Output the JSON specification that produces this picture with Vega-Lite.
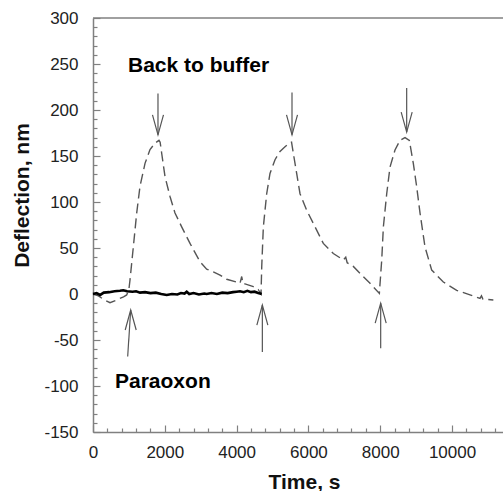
{
  "$schema": "https://vega.github.io/schema/vega-lite/v6.json",
  "width": 410,
  "height": 414,
  "autosize": {"type": "none"},
  "padding": {"left": 93, "top": 18, "right": 0, "bottom": 59},
  "background": "white",
  "config": {
    "view": {"stroke": null},
    "font": "Liberation Sans",
    "axis": {
      "grid": false,
      "domainColor": "#808080",
      "domainWidth": 1.5,
      "tickColor": "#808080",
      "tickWidth": 1.2,
      "labelColor": "#222222",
      "labelFont": "Liberation Sans",
      "labelFontSize": 17,
      "labelOverlap": false,
      "titleFont": "Liberation Sans",
      "titleFontSize": 21,
      "titleFontWeight": "bold",
      "titleColor": "#111111"
    }
  },
  "resolve": {"axis": {"x": "independent", "y": "independent"}},
  "datasets": {
    "dashed": [
      {"t": 0, "d": 0}, {"t": 150, "d": -2}, {"t": 300, "d": -6}, {"t": 474, "d": -9.5},
      {"t": 660, "d": -6.5}, {"t": 850, "d": -3}, {"t": 938, "d": -1}, {"t": 1000, "d": 5},
      {"t": 1030, "d": 15}, {"t": 1123, "d": 51}, {"t": 1217, "d": 88}, {"t": 1309, "d": 117},
      {"t": 1449, "d": 142}, {"t": 1588, "d": 157}, {"t": 1727, "d": 164}, {"t": 1838, "d": 167},
      {"t": 1870, "d": 165}, {"t": 1913, "d": 153}, {"t": 2006, "d": 127.5}, {"t": 2145, "d": 106},
      {"t": 2284, "d": 88}, {"t": 2470, "d": 73}, {"t": 2702, "d": 55}, {"t": 2981, "d": 35},
      {"t": 3166, "d": 27}, {"t": 3351, "d": 24}, {"t": 3538, "d": 20.6}, {"t": 3724, "d": 16},
      {"t": 4002, "d": 13}, {"t": 4095, "d": 11.6}, {"t": 4142, "d": 19}, {"t": 4180, "d": 11},
      {"t": 4234, "d": 11}, {"t": 4466, "d": 8}, {"t": 4600, "d": 5}, {"t": 4680, "d": 0},
      {"t": 4700, "d": 30}, {"t": 4745, "d": 73}, {"t": 4838, "d": 109}, {"t": 4930, "d": 131},
      {"t": 5070, "d": 146}, {"t": 5209, "d": 155}, {"t": 5348, "d": 160}, {"t": 5487, "d": 164.5},
      {"t": 5530, "d": 165}, {"t": 5580, "d": 153}, {"t": 5673, "d": 131}, {"t": 5766, "d": 109},
      {"t": 5952, "d": 91}, {"t": 6184, "d": 73}, {"t": 6415, "d": 55}, {"t": 6694, "d": 44},
      {"t": 6973, "d": 37}, {"t": 7040, "d": 40}, {"t": 7080, "d": 34}, {"t": 7251, "d": 30},
      {"t": 7437, "d": 22.5}, {"t": 7716, "d": 11.6}, {"t": 7976, "d": 0.7}, {"t": 8042, "d": 37},
      {"t": 8088, "d": 73}, {"t": 8181, "d": 109}, {"t": 8273, "d": 138}, {"t": 8412, "d": 156.5},
      {"t": 8552, "d": 167}, {"t": 8691, "d": 170}, {"t": 8811, "d": 167}, {"t": 8922, "d": 142},
      {"t": 9014, "d": 117}, {"t": 9109, "d": 88}, {"t": 9248, "d": 51}, {"t": 9434, "d": 26},
      {"t": 9758, "d": 13}, {"t": 10130, "d": 4}, {"t": 10501, "d": -1}, {"t": 10780, "d": -4.7},
      {"t": 10820, "d": -2}, {"t": 10860, "d": -5.5}, {"t": 11151, "d": -6.5}
    ],
    "solid": [
      {"t": 0, "d": 0}, {"t": 100, "d": 1}, {"t": 200, "d": -1}, {"t": 300, "d": 1.5},
      {"t": 450, "d": 2}, {"t": 600, "d": 3}, {"t": 750, "d": 3.5}, {"t": 844, "d": 4},
      {"t": 950, "d": 3}, {"t": 1100, "d": 2.5}, {"t": 1200, "d": 3}, {"t": 1309, "d": 1.5},
      {"t": 1450, "d": 2}, {"t": 1600, "d": 1}, {"t": 1750, "d": 1.5}, {"t": 1900, "d": 0},
      {"t": 2053, "d": -1}, {"t": 2200, "d": 0}, {"t": 2350, "d": -0.5}, {"t": 2450, "d": 1},
      {"t": 2550, "d": 0.5}, {"t": 2610, "d": 2.5}, {"t": 2680, "d": 0}, {"t": 2800, "d": 1},
      {"t": 2950, "d": -0.5}, {"t": 3100, "d": 0.5}, {"t": 3166, "d": 0}, {"t": 3300, "d": 1},
      {"t": 3450, "d": 0}, {"t": 3600, "d": 1.5}, {"t": 3750, "d": 1}, {"t": 3900, "d": 2},
      {"t": 4000, "d": 2.5}, {"t": 4095, "d": 3}, {"t": 4200, "d": 2}, {"t": 4300, "d": 3.5},
      {"t": 4400, "d": 2}, {"t": 4500, "d": 2.5}, {"t": 4600, "d": 1}, {"t": 4700, "d": 0}
    ],
    "arrows": [
      {"x": 1810, "y": 218, "x2": 1810, "y2": 173, "dir": "down"},
      {"x": 5543, "y": 219, "x2": 5543, "y2": 173, "dir": "down"},
      {"x": 8737, "y": 224, "x2": 8737, "y2": 176, "dir": "down"},
      {"x": 966, "y": -68, "x2": 1050, "y2": -17.4, "dir": "up"},
      {"x": 4717, "y": -63, "x2": 4717, "y2": -12, "dir": "up"},
      {"x": 8013, "y": -59, "x2": 8013, "y2": -10, "dir": "up"}
    ],
    "labels": [
      {"x": 975, "y": 241, "text": "Back to buffer"},
      {"x": 613, "y": -102, "text": "Paraoxon"}
    ]
  },
  "layer": [
    {
      "data": {"name": "dashed"},
      "mark": {"type": "line", "color": "#555555", "strokeWidth": 1.4, "strokeDash": [10, 5]},
      "encoding": {
        "x": {
          "field": "t", "type": "quantitative",
          "scale": {"domain": [0, 11420], "nice": false, "zero": false},
          "axis": {
            "orient": "bottom",
            "title": "Time, s",
            "values": [0, 2000, 4000, 6000, 8000, 10000],
            "format": "d",
            "labelOverlap": false,
            "labelFlush": false,
            "tickSize": -7,
            "labelPadding": 19,
            "titleX": 211,
            "titleY": 56,
            "titleBaseline": "alphabetic"
          }
        },
        "y": {
          "field": "d", "type": "quantitative",
          "scale": {"domain": [-150, 300], "nice": false, "zero": false},
          "axis": {
            "orient": "left",
            "title": "Deflection, nm",
            "values": [-150, -100, -50, 0, 50, 100, 150, 200, 250, 300],
            "labelExpr": "'' + datum.value",
            "labelOverlap": false,
            "labelFlush": false,
            "tickSize": -7,
            "labelPadding": 22,
            "titleX": -65,
            "titleY": 177,
            "titleAngle": 270,
            "titleBaseline": "alphabetic"
          }
        }
      }
    },
    {
      "data": {"name": "solid"},
      "mark": {"type": "line", "color": "#000000", "strokeWidth": 2.6},
      "encoding": {
        "x": {
          "field": "t", "type": "quantitative",
          "axis": {
            "orient": "bottom",
            "title": null,
            "labels": false,
            "domain": false,
            "tickSize": -4,
            "values": [400,800,1200,1600,2400,2800,3200,3600,4400,4800,5200,5600,6400,6800,7200,7600,8400,8800,9200,9600,10400,10800,11200]
          }
        },
        "y": {
          "field": "d", "type": "quantitative",
          "axis": {
            "orient": "left",
            "title": null,
            "labels": false,
            "domain": false,
            "tickSize": -4,
            "values": [-140,-130,-120,-110,-90,-80,-70,-60,-40,-30,-20,-10,10,20,30,40,60,70,80,90,110,120,130,140,160,170,180,190,210,220,230,240,260,270,280,290]
          }
        }
      }
    },
    {
      "data": {"values": [{}]},
      "mark": {"type": "rule", "color": "#808080", "strokeWidth": 1.5},
      "encoding": {"y": {"datum": 300, "type": "quantitative", "axis": null}}
    },
    {
      "data": {"name": "arrows"},
      "mark": {"type": "rule", "color": "#555555", "strokeWidth": 1.2},
      "encoding": {
        "x": {"field": "x", "type": "quantitative", "axis": null},
        "y": {"field": "y", "type": "quantitative", "axis": null},
        "x2": {"field": "x2"},
        "y2": {"field": "y2"}
      }
    },
    {
      "data": {"name": "arrows"},
      "transform": [{"filter": "datum.dir === 'down'"}],
      "mark": {"type": "point", "shape": "M -0.55 -2 L 0 0 L 0.55 -2", "size": 400, "filled": false, "color": "#555555", "strokeWidth": 1.2, "opacity": 1},
      "encoding": {
        "x": {"field": "x2", "type": "quantitative", "axis": null},
        "y": {"field": "y2", "type": "quantitative", "axis": null}
      }
    },
    {
      "data": {"name": "arrows"},
      "transform": [{"filter": "datum.dir === 'up'"}],
      "mark": {"type": "point", "shape": "M -0.55 2 L 0 0 L 0.55 2", "size": 400, "filled": false, "color": "#555555", "strokeWidth": 1.2, "opacity": 1},
      "encoding": {
        "x": {"field": "x2", "type": "quantitative", "axis": null},
        "y": {"field": "y2", "type": "quantitative", "axis": null}
      }
    },
    {
      "data": {"name": "labels"},
      "mark": {"type": "text", "align": "left", "baseline": "alphabetic", "font": "Liberation Sans", "fontSize": 21, "fontWeight": "bold", "color": "#000000"},
      "encoding": {
        "x": {"field": "x", "type": "quantitative", "axis": null},
        "y": {"field": "y", "type": "quantitative", "axis": null},
        "text": {"field": "text"}
      }
    }
  ]
}
